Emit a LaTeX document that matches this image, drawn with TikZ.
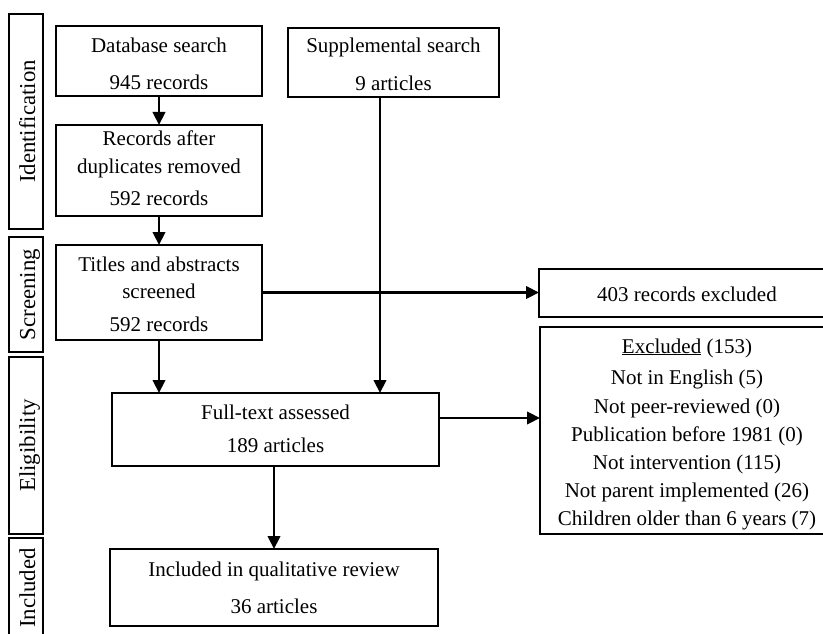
\documentclass[tikz,border=0pt]{standalone}
\usepackage{fontspec}
\setmainfont{Liberation Serif}
\usetikzlibrary{arrows.meta}
\begin{document}
\begin{tikzpicture}[x=1pt,y=-1pt,
  box/.style={draw=black, line width=1.6pt, inner sep=0pt, outer sep=0pt, anchor=north west},
  txt/.style={anchor=base, inner sep=0pt, font=\fontsize{21}{25}\selectfont},
  lab/.style={anchor=base, rotate=90, inner sep=0pt, font=\fontsize{22.8}{27}\selectfont},
  arr/.style={line width=2.2pt, -{Triangle[length=13pt,width=12.5pt]}}]
\useasboundingbox (0,0) rectangle (823,634);
% stage labels
\node[box, minimum width=34pt, minimum height=215pt] (l1) at (9,14) {};
\node[box, minimum width=34pt, minimum height=115pt] (l2) at (9,237) {};
\node[box, minimum width=34pt, minimum height=177pt] (l3) at (9,357) {};
\node[box, minimum width=34pt, minimum height=112pt] (l4) at (9,538) {};
\node[lab] (l1t) at (35,121.5) {Identification};
\node[lab] (l2t) at (35,294.5) {Screening};
\node[lab] (l3t) at (35,445.5) {Eligibility};
\node[lab] (l4t) at (35,588) {Included};
% boxes
\node[box, minimum width=206pt, minimum height=70pt] (db) at (56,26) {};
\node[box, minimum width=211pt, minimum height=69pt] (supp) at (288,28) {};
\node[box, minimum width=206pt, minimum height=91pt] (rec) at (56,125) {};
\node[box, minimum width=206pt, minimum height=95pt] (tit) at (56,245) {};
\node[box, minimum width=327pt, minimum height=73pt] (full) at (112,393) {};
\node[box, minimum width=328pt, minimum height=77pt] (incl) at (110,549) {};
\node[box, minimum width=295pt, minimum height=48pt] (ex) at (539,269) {};
\node[box, minimum width=294pt, minimum height=207pt] (excl) at (540,327) {};
% texts
\node[txt] (dbt1) at (159,53) {Database search};
\node[txt] (dbt2) at (159,90) {945 records};
\node[txt] (st1) at (393.5,53) {Supplemental search};
\node[txt] (st2) at (393.5,91) {9 articles};
\node[txt] (rt1) at (159,146) {Records after};
\node[txt] (rt2) at (159,173) {duplicates removed};
\node[txt] (rt3) at (159,205) {592 records};
\node[txt] (tt1) at (159,271) {Titles and abstracts};
\node[txt] (tt2) at (159,298) {screened};
\node[txt] (tt3) at (159,331) {592 records};
\node[txt] (ft1) at (275.5,419) {Full-text assessed};
\node[txt] (ft2) at (275.5,452) {189 articles};
\node[txt] (it1) at (274,576) {Included in qualitative review};
\node[txt] (it2) at (274,613) {36 articles};
\node[txt] (et) at (687,301) {403 records excluded};
\node[txt] (x1) at (687,353) {\underline{Excluded} (153)};
\node[txt] (x2) at (687,384) {Not in English (5)};
\node[txt] (x3) at (687,413) {Not peer-reviewed (0)};
\node[txt] (x4) at (687,441) {Publication before 1981 (0)};
\node[txt] (x5) at (687,469) {Not intervention (115)};
\node[txt] (x6) at (687,497) {Not parent implemented (26)};
\node[txt] (x7) at (687,525) {Children older than 6 years (7)};
% helper coordinates
\coordinate (sx) at (380,0);
\coordinate (fy) at (0,418);
% connectors
\draw[arr] (db.south) -- (rec.north);
\draw[arr] (rec.south) -- (tit.north);
\draw[arr] (tit.south) -- (tit.south |- full.north);
\draw[arr] (supp.south -| sx) -- (full.north -| sx);
\draw[arr] (tit.east) -- (tit.east -| ex.west);
\draw[arr] (full.east |- fy) -- (excl.west |- fy);
\draw[arr] (full.south -| incl.north) -- (incl.north);
\end{tikzpicture}
\end{document}
